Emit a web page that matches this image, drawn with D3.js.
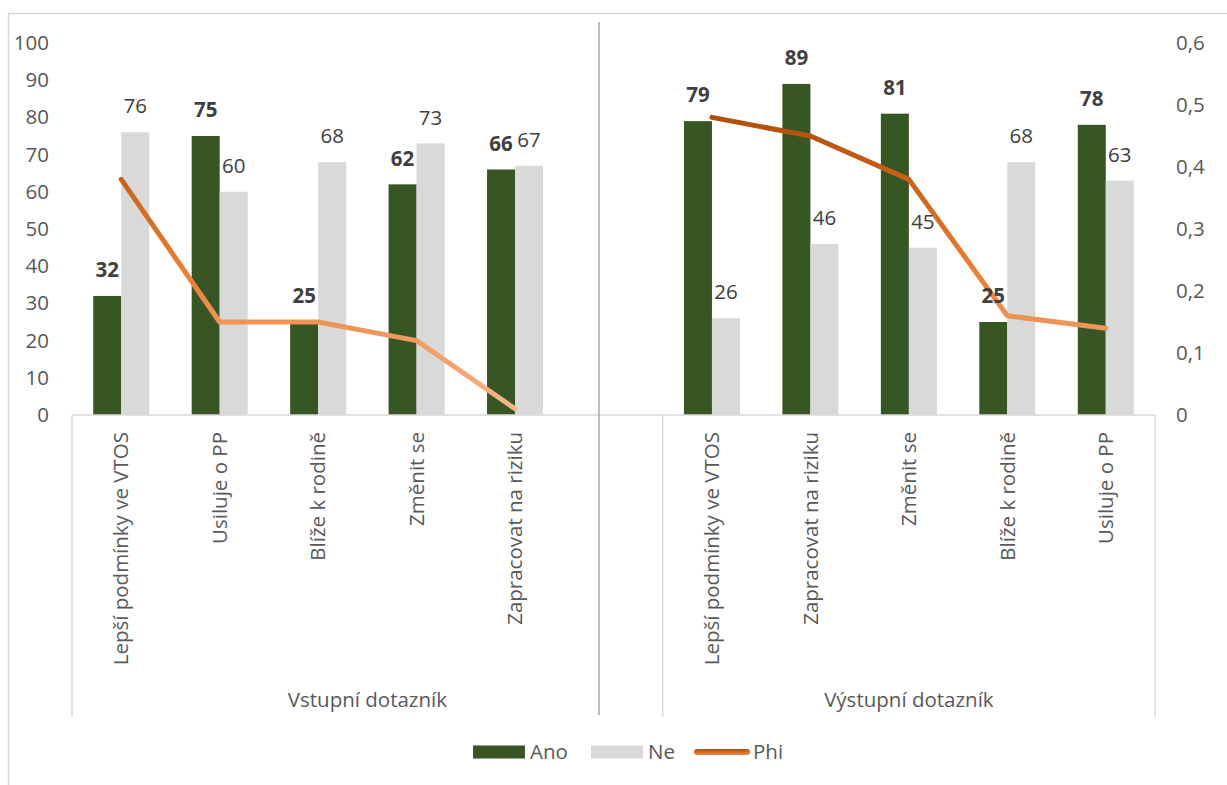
<!DOCTYPE html>
<html>
<head>
<meta charset="utf-8">
<script src="https://cdn.jsdelivr.net/npm/d3@7"></script>
<style>
  body { margin: 0; background: #fff; }
  svg { display: block; font-family: "Open Sans", sans-serif; }
</style>
</head>
<body>
<div id="chart"></div>
<script>
// data
const groups = ['Vstupní dotazník', 'Výstupní dotazník'];
const categoriesIn = ['Lepší podmínky ve VTOS', 'Usiluje o PP', 'Blíže k rodině', 'Změnit se', 'Zapracovat na riziku'];
const categoriesOut = ['Lepší podmínky ve VTOS', 'Zapracovat na riziku', 'Změnit se', 'Blíže k rodině', 'Usiluje o PP'];
const anoIn = [32, 75, 25, 62, 66];
const neIn = [76, 60, 68, 73, 67];
const phiIn = [0.38, 0.15, 0.15, 0.12, 0.01];
const anoOut = [79, 89, 81, 25, 78];
const neOut = [26, 46, 45, 68, 63];
const phiOut = [0.48, 0.45, 0.38, 0.16, 0.14];
const leftTicks = [0, 10, 20, 30, 40, 50, 60, 70, 80, 90, 100];
const rightTicks = [0, 0.1, 0.2, 0.3, 0.4, 0.5, 0.6];
const legendItems = ['Ano', 'Ne', 'Phi'];

const width = 1227, height = 785;
const plot = { left: 72, right: 1155, top: 43, bottom: 415 };
const fs = '20.5px';

// slots: 5 input categories, one empty slot, 5 output categories
const rows = [];
categoriesIn.forEach((c, i) => rows.push({ key: 'in' + i, group: 0, cat: c, ano: anoIn[i], ne: neIn[i], phi: phiIn[i] }));
rows.push({ key: 'blank', group: 0, cat: '', ano: null, ne: null, phi: null });
categoriesOut.forEach((c, i) => rows.push({ key: 'out' + i, group: 1, cat: c, ano: anoOut[i], ne: neOut[i], phi: phiOut[i] }));

const x = d3.scaleBand().domain(rows.map(d => d.key)).range([plot.left, plot.right]);
const y = d3.scaleLinear().domain([0, 100]).range([plot.bottom, plot.top]);
const y2 = d3.scaleLinear().domain([0, 0.6]).range([plot.bottom, plot.top]);
const barW = 28;
const cx = d => x(d.key) + x.bandwidth() / 2;

const svg = d3.select('#chart').append('svg')
  .attr('width', width)
  .attr('height', height);

svg.append('rect')
  .attr('x', 8.5).attr('y', 13.5)
  .attr('width', 1240).attr('height', 800)
  .attr('fill', '#fff')
  .attr('stroke', '#d9d9d9')
  .attr('stroke-width', 1.5);

const grad = svg.append('defs').append('linearGradient')
  .attr('id', 'phiGrad')
  .attr('x1', 0).attr('y1', 0).attr('x2', 0).attr('y2', 1);
grad.append('stop').attr('offset', '0%').attr('stop-color', '#b24e0b');
grad.append('stop').attr('offset', '50%').attr('stop-color', '#e97c30');
grad.append('stop').attr('offset', '100%').attr('stop-color', '#f6b78b');

const legGrad = svg.select('defs').append('linearGradient')
  .attr('id', 'legGrad')
  .attr('x1', 0).attr('y1', 0).attr('x2', 0).attr('y2', 1);
legGrad.append('stop').attr('offset', '0%').attr('stop-color', '#b24e0b');
legGrad.append('stop').attr('offset', '100%').attr('stop-color', '#f08a45');

// left axis
const yAxis = svg.append('g')
  .attr('transform', `translate(${plot.left},0)`)
  .call(d3.axisLeft(y).tickValues(leftTicks).tickSize(0).tickPadding(23));
yAxis.select('.domain').remove();
yAxis.selectAll('text').attr('fill', '#595959').style('font-size', fs).style('font-family', 'Open Sans');

// right axis
const fmt = v => v === 0 ? '0' : d3.format('.1f')(v).replace('.', ',');
const y2Axis = svg.append('g')
  .attr('transform', `translate(${plot.right},0)`)
  .call(d3.axisRight(y2).tickValues(rightTicks).tickFormat(fmt).tickSize(0).tickPadding(21));
y2Axis.select('.domain').remove();
y2Axis.selectAll('text').attr('fill', '#595959').style('font-size', fs).style('font-family', 'Open Sans');

// bars
const data = rows.filter(d => d.ano !== null);
svg.append('g').selectAll('rect').data(data).join('rect')
  .attr('x', d => cx(d) - barW)
  .attr('y', d => y(d.ano))
  .attr('width', barW)
  .attr('height', d => y(0) - y(d.ano))
  .attr('fill', '#375623');
svg.append('g').selectAll('rect').data(data).join('rect')
  .attr('x', d => cx(d))
  .attr('y', d => y(d.ne))
  .attr('width', barW)
  .attr('height', d => y(0) - y(d.ne))
  .attr('fill', '#d9d9d9');

// category axis frame
const frame = svg.append('g').attr('stroke', '#d9d9d9').attr('stroke-width', 1.5);
frame.append('line')
  .attr('x1', plot.left).attr('x2', plot.right)
  .attr('y1', y(0)).attr('y2', y(0));
const groupEdges = [plot.left, x('out0'), plot.right];
frame.selectAll('.edge').data(groupEdges).join('line')
  .attr('x1', d => d).attr('x2', d => d)
  .attr('y1', y(0)).attr('y2', 717);

// separator line
svg.append('line')
  .attr('x1', 599).attr('x2', 599)
  .attr('y1', 22).attr('y2', 715)
  .attr('stroke', '#a6a6a6')
  .attr('stroke-width', 1.5);

// phi line
const line = d3.line()
  .defined(d => d.phi !== null)
  .x(cx)
  .y(d => y2(d.phi));
svg.append('path')
  .datum(rows)
  .attr('d', line)
  .attr('fill', 'none')
  .attr('stroke', 'url(#phiGrad)')
  .attr('stroke-width', 5)
  .attr('stroke-linecap', 'round')
  .attr('stroke-linejoin', 'round');

// data labels
svg.append('g').selectAll('text').data(data).join('text')
  .attr('x', d => cx(d) - barW / 2)
  .attr('y', d => y(d.ano) - 26)
  .attr('dy', '0.35em')
  .attr('text-anchor', 'middle')
  .attr('fill', '#404040')
  .style('font-size', fs)
  .style('font-weight', 'bold')
  .text(d => d.ano);
svg.append('g').selectAll('text').data(data).join('text')
  .attr('x', d => cx(d) + barW / 2)
  .attr('y', d => y(d.ne) - 26)
  .attr('dy', '0.35em')
  .attr('text-anchor', 'middle')
  .attr('fill', '#404040')
  .style('font-size', fs)
  .text(d => d.ne);

// category labels
svg.append('g').selectAll('text').data(data).join('text')
  .attr('transform', d => `translate(${cx(d)},432) rotate(-90)`)
  .attr('dy', '0.35em')
  .attr('text-anchor', 'end')
  .attr('fill', '#595959')
  .style('font-size', fs)
  .text(d => d.cat);

// group labels
svg.append('g').selectAll('text').data(groups).join('text')
  .attr('x', (d, i) => (groupEdges[i] + groupEdges[i + 1]) / 2)
  .attr('y', 700)
  .attr('dy', '0.35em')
  .attr('text-anchor', 'middle')
  .attr('fill', '#595959')
  .style('font-size', fs)
  .text(d => d);

// legend
const legend = svg.append('g').attr('transform', 'translate(473,752)');
const legX = [0, 118, 221];
legendItems.forEach((name, i) => {
  const g = legend.append('g').attr('transform', `translate(${legX[i]},0)`);
  if (i < 2) {
    g.append('rect').attr('x', 0).attr('y', -6.5).attr('width', 52).attr('height', 13)
      .attr('fill', i === 0 ? '#375623' : '#d9d9d9');
  } else {
    g.append('rect').attr('x', 0).attr('y', -3).attr('width', 56).attr('height', 6).attr('rx', 3)
      .attr('fill', 'url(#legGrad)');
  }
  g.append('text')
    .attr('x', i < 2 ? 57 : 59)
    .attr('dy', '0.35em')
    .attr('fill', '#595959')
    .style('font-size', fs)
    .text(name);
});
</script>
</body>
</html>
